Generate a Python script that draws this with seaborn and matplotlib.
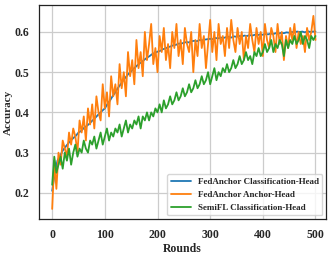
import numpy as np
import pandas as pd
import seaborn as sns
import matplotlib.pyplot as plt

sns.set_style("whitegrid")
plt.rcParams['font.family'] = ['Liberation Serif', 'DejaVu Serif']
plt.rcParams['font.weight'] = 'bold'

# FedAnchor classification head, every 5 rounds
rounds_cls = list(range(0, 501, 5))
fedanchor_cls = [
    0.205, 0.250, 0.280, 0.292, 0.305, 0.314, 0.322, 0.330, 0.336, 0.342,
    0.350, 0.354, 0.361, 0.366, 0.371, 0.378, 0.384, 0.391, 0.398, 0.404,
    0.410, 0.421, 0.430, 0.441, 0.450, 0.461, 0.470, 0.480, 0.488, 0.496,
    0.502, 0.509, 0.515, 0.521, 0.525, 0.531, 0.536, 0.540, 0.545, 0.548,
    0.551, 0.553, 0.557, 0.559, 0.562, 0.564, 0.567, 0.568, 0.571, 0.571,
    0.573, 0.575, 0.574, 0.577, 0.578, 0.577, 0.580, 0.579, 0.581, 0.582,
    0.583, 0.582, 0.585, 0.584, 0.586, 0.585, 0.587, 0.588, 0.586, 0.589,
    0.588, 0.590, 0.589, 0.591, 0.590, 0.592, 0.591, 0.593, 0.592, 0.594,
    0.593, 0.595, 0.594, 0.596, 0.595, 0.597, 0.596, 0.598, 0.597, 0.599,
    0.598, 0.600, 0.599, 0.601, 0.600, 0.601, 0.599, 0.602, 0.600, 0.601,
    0.601,
]

# anchor head and SemiFL, every 4 rounds
rounds_b = list(range(0, 501, 4))
fedanchor_anchor = [
    0.16, 0.28, 0.21, 0.30, 0.27, 0.33, 0.31, 0.29, 0.35, 0.32,
    0.36, 0.34, 0.30, 0.38, 0.35, 0.39, 0.33, 0.41, 0.37, 0.42,
    0.36, 0.44, 0.40, 0.38, 0.47, 0.41, 0.45, 0.39, 0.49, 0.44,
    0.47, 0.42, 0.52, 0.46, 0.50, 0.44, 0.55, 0.49, 0.53, 0.47,
    0.58, 0.51, 0.55, 0.49, 0.60, 0.53, 0.57, 0.62, 0.52, 0.56,
    0.50, 0.59, 0.55, 0.61, 0.53, 0.57, 0.51, 0.60, 0.56, 0.62,
    0.54, 0.58, 0.52, 0.61, 0.57, 0.55, 0.60, 0.50, 0.58, 0.54,
    0.62, 0.56, 0.59, 0.51, 0.57, 0.63, 0.55, 0.60, 0.53, 0.62,
    0.57, 0.59, 0.54, 0.61, 0.56, 0.63, 0.58, 0.55, 0.61, 0.57,
    0.60, 0.53, 0.59, 0.56, 0.62, 0.58, 0.55, 0.61, 0.57, 0.60,
    0.54, 0.62, 0.58, 0.56, 0.61, 0.59, 0.55, 0.62, 0.57, 0.60,
    0.53, 0.59, 0.56, 0.61, 0.58, 0.62, 0.56, 0.60, 0.57, 0.59,
    0.55, 0.61, 0.58, 0.60, 0.64, 0.58,
]

semifl_cls = [
    0.22, 0.29, 0.25, 0.27, 0.29, 0.26, 0.30, 0.28, 0.31, 0.27,
    0.30, 0.32, 0.29, 0.31, 0.30, 0.33, 0.31, 0.30, 0.33, 0.32,
    0.34, 0.31, 0.33, 0.35, 0.32, 0.34, 0.36, 0.33, 0.35, 0.34,
    0.36, 0.35, 0.37, 0.34, 0.36, 0.38, 0.35, 0.37, 0.36, 0.38,
    0.37, 0.39, 0.36, 0.39, 0.38, 0.40, 0.38, 0.40, 0.39, 0.41,
    0.40, 0.42, 0.40, 0.43, 0.41, 0.42, 0.44, 0.42, 0.43, 0.45,
    0.43, 0.44, 0.46, 0.44, 0.45, 0.47, 0.45, 0.46, 0.48, 0.46,
    0.47, 0.49, 0.47, 0.48, 0.50, 0.47, 0.49, 0.51, 0.48, 0.50,
    0.49, 0.51, 0.50, 0.52, 0.50, 0.51, 0.53, 0.51, 0.52, 0.54,
    0.52, 0.53, 0.55, 0.53, 0.54, 0.52, 0.55, 0.54, 0.56, 0.54,
    0.55, 0.57, 0.55, 0.56, 0.58, 0.55, 0.57, 0.56, 0.58, 0.57,
    0.54, 0.58, 0.56, 0.58, 0.57, 0.59, 0.57, 0.58, 0.60, 0.57,
    0.59, 0.58, 0.56, 0.59, 0.58, 0.59,
]

labels = ["FedAnchor Classification-Head", "FedAnchor Anchor-Head", "SemiFL Classification-Head"]

df = pd.concat([
    pd.DataFrame({"Rounds": rounds_cls, "Accuracy": fedanchor_cls, "method": labels[0]}),
    pd.DataFrame({"Rounds": rounds_b, "Accuracy": fedanchor_anchor, "method": labels[1]}),
    pd.DataFrame({"Rounds": rounds_b, "Accuracy": semifl_cls, "method": labels[2]}),
])

fig = plt.figure(figsize=(3.32, 2.54), dpi=100)
ax = fig.add_axes([0.1175, 0.1378, 0.8645, 0.8425])
sns.lineplot(data=df, x="Rounds", y="Accuracy", hue="method", hue_order=labels,
             palette=["#1f77b4", "#ff7f0e", "#2ca02c"], linewidth=1.3, ax=ax)

ax.set_xlim(-25, 520)
ax.set_ylim(0.135, 0.667)
ax.set_xticks([0, 100, 200, 300, 400, 500])
ax.set_yticks([0.2, 0.3, 0.4, 0.5, 0.6])
ax.tick_params(labelsize=8.5, pad=3.5)
for t in ax.get_xticklabels() + ax.get_yticklabels():
    t.set_fontweight('bold')
ax.set_xlabel("Rounds", fontsize=8.5, fontweight='bold', labelpad=1.5)
ax.set_ylabel("Accuracy", fontsize=8, fontweight='bold', labelpad=1)
for s in ax.spines.values():
    s.set_color('#222222')
    s.set_linewidth(0.9)
ax.grid(color='#cccccc', linewidth=0.9)

leg = ax.legend(loc='lower right', prop={'size': 6.5, 'weight': 'bold'},
                frameon=True, borderaxespad=0.4, handlelength=2.2)
leg.get_frame().set_edgecolor('#cccccc')

fig.savefig("out.png", dpi=100)
